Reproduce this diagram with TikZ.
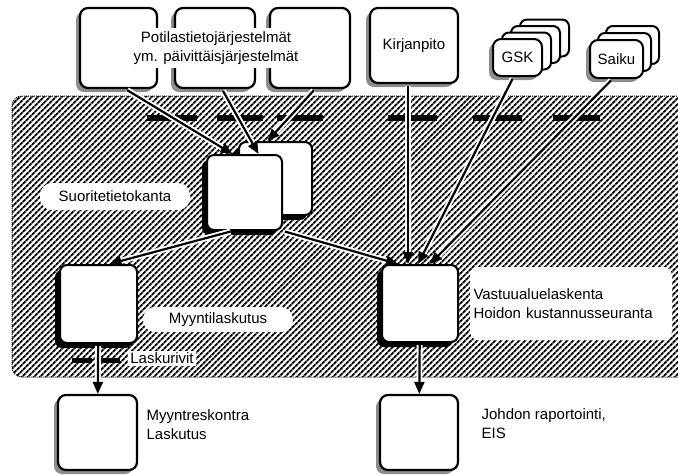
\documentclass[tikz,border=0pt]{standalone}
\usepackage{fontspec}
\setmainfont{Liberation Sans}
\usetikzlibrary{arrows.meta,shadows,patterns.meta,positioning}

\begin{document}
\begin{tikzpicture}[x=1pt,y=-1pt,>={Triangle[length=12pt,width=10pt]},
                    font=\fontsize{15}{19}\selectfont,
                    src/.style={draw,line width=2.2pt,rounded corners=8pt,fill=white,
                      drop shadow={shadow xshift=-4pt,shadow yshift=-4pt,fill=black!45,opacity=1}},
                    sys/.style={draw,line width=2pt,rounded corners=7pt,fill=white,
                      drop shadow={shadow xshift=-5pt,shadow yshift=-5pt,fill=black,opacity=1}},
                    card/.style={draw,line width=2pt,rounded corners=7pt,fill=white},
                    pill/.style={fill=white,rounded corners=12pt},
                    flow/.style={->,line width=2.2pt,shorten <=2pt,
                      preaction={draw=white,line width=6pt,-,shorten >=6pt}},
                    bar/.style={line width=6pt}]

  \useasboundingbox (0,0) rectangle (678,475);
  \draw[densely dotted,line width=1pt,rounded corners=10pt,
        pattern={Lines[angle=45,distance=4pt,line width=2pt]}] (12,96) rectangle (700,377);
  \foreach \a/\b in {147/197,217/263,277/323,388/437,473/522,553/600}
    \draw[bar] (\a,118) -- (\b,118);
  \foreach \a/\b in {72/92,100/120}
    \draw[line width=5pt] (\a,360) -- (\b,360);

  \node[src,minimum width=77pt,minimum height=80pt] (P1) at (118.5,48) {};
  \node[src,minimum width=80pt,minimum height=80pt] (P2) at (215,48) {};
  \node[src,minimum width=80pt,minimum height=80pt] (P3) at (310,48) {};
  \node[fill=white,align=center,inner xsep=3pt] (PT) at (216,48)
       {Potilastietojärjestelmät\\ym. päivittäisjärjestelmät};
  \node[src,minimum width=88pt,minimum height=75pt] (K) at (414,45.5) {Kirjanpito};

  \foreach \k in {3,2,1}
    \node[card,minimum width=49pt,minimum height=37pt] at (517.5+9*\k,57.5-6.5*\k) {};
  \node[src,line width=2pt,minimum width=49pt,minimum height=37pt] (G) at (517.5,57.5) {GSK};
  \foreach \k in {2,1}
    \node[card,minimum width=53pt,minimum height=38pt] at (616.5+8*\k,59-7*\k) {};
  \node[src,line width=2pt,minimum width=53pt,minimum height=38pt] (S) at (616.5,59) {Saiku};

  \node[sys,minimum width=73pt,minimum height=73pt] (D2) at (275.5,178.5) {};
  \node[sys,minimum width=75pt,minimum height=75pt] (D) at (244.5,192.5) {};
  \node[pill,minimum width=150pt,minimum height=27pt] (DL) at (115,196.5) {Suoritetietokanta};

  \node[sys,minimum width=77pt,minimum height=78pt] (M) at (98.5,304) {};
  \node[pill,minimum width=150pt,minimum height=25pt] (ML) at (218,319.5) {Myyntilaskutus};
  \node[sys,minimum width=76pt,minimum height=77pt] (V) at (420,303.5) {};
  \node[fill=white,rounded corners=8pt,minimum height=73pt,text width=195pt,align=left]
       (VL) at (571,303.5) {Vastuualuelaskenta\\Hoidon kustannusseuranta};
  \node[fill=white,inner sep=2pt] (LR) at (162,358.5) {Laskurivit};

  \node[src,minimum width=79pt,minimum height=75pt] (R) at (97.5,432.5) {};
  \node[src,minimum width=78pt,minimum height=75pt] (J) at (419,432.5) {};
  \node[align=left] (RL) [right=5pt of R,yshift=8pt] {Myyntreskontra\\Laskutus};
  \node[align=left] (JL) [right=19pt of J,yshift=9pt] {Johdon raportointi,\\EIS};

  \draw[flow] ([xshift=7pt]P1.south) -- ([xshift=-12pt]D.north);
  \draw[flow] ([xshift=7pt]P2.south) -- ([xshift=14pt]D.north);
  \draw[flow] ([xshift=5pt]P3.south) -- ([xshift=-8pt]D2.north);
  \draw[flow] ([xshift=-12pt]D.south) -- ([xshift=11pt]M.north);
  \draw[flow] (D.south east) -- ([xshift=-22pt]V.north);
  \draw[flow] ([xshift=-6pt]K.south) -- ([xshift=-12pt]V.north);
  \draw[flow] ([xshift=-4pt]G.south) -- ([xshift=-2pt]V.north);
  \draw[flow] ([xshift=-4pt]S.south) -- ([xshift=10pt]V.north);
  \draw[flow] (M) -- (R);
  \draw[flow] (V) -- (J);
\end{tikzpicture}
\end{document}
